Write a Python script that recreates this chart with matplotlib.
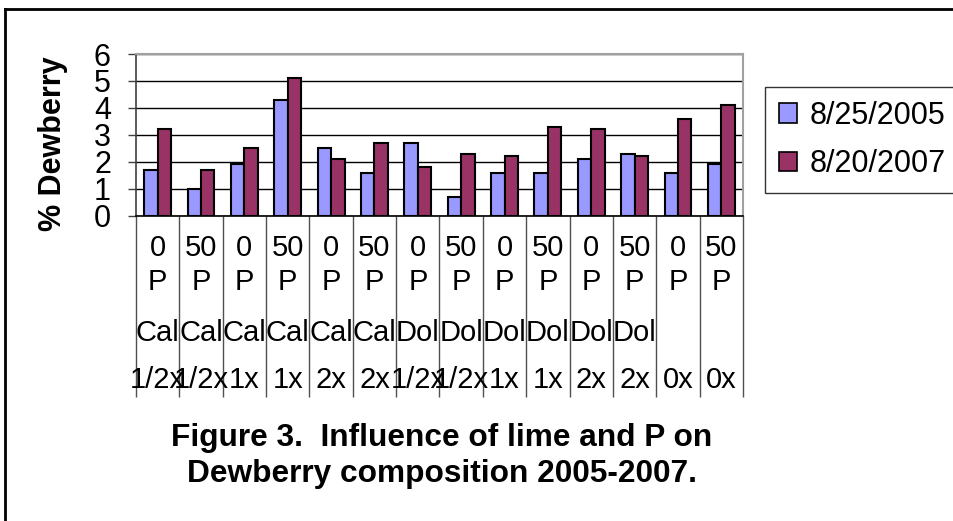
import matplotlib
matplotlib.use("Agg")
import matplotlib.pyplot as plt
import matplotlib.transforms as mtransforms
from matplotlib.patches import Patch
import numpy as np

plt.rcParams['font.family'] = ['Liberation Sans', 'DejaVu Sans']

p_rates = ["0", "50", "0", "50", "0", "50", "0", "50", "0", "50", "0", "50", "0", "50"]
p_unit = ["P"] * 14
lime_type = ["Cal", "Cal", "Cal", "Cal", "Cal", "Cal", "Dol", "Dol", "Dol", "Dol", "Dol", "Dol", "", ""]
lime_rate = ["1/2x", "1/2x", "1x", "1x", "2x", "2x", "1/2x", "1/2x", "1x", "1x", "2x", "2x", "0x", "0x"]
s2005 = [1.7, 1.0, 1.9, 4.3, 2.5, 1.6, 2.7, 0.7, 1.6, 1.6, 2.1, 2.3, 1.6, 1.9]
s2007 = [3.2, 1.7, 2.5, 5.1, 2.1, 2.7, 1.8, 2.3, 2.2, 3.3, 3.2, 2.2, 3.6, 4.1]
series_names = ["8/25/2005", "8/20/2007"]
colors = ["#9999FF", "#993366"]
yticks = [0, 1, 2, 3, 4, 5, 6]

W, H = 954, 521
fig = plt.figure(figsize=(W / 100, H / 100), dpi=100)
ax = fig.add_axes([136 / W, 1 - 215.7 / H, (743 - 136) / W, (215.7 - 54) / H])

x = np.arange(len(s2005))
bw = 0.31
ax.bar(x - bw / 2, s2005, bw, color=colors[0], edgecolor="black", linewidth=1.5, zorder=3)
ax.bar(x + bw / 2, s2007, bw, color=colors[1], edgecolor="black", linewidth=1.5, zorder=3)

ax.set_xlim(-0.5, len(x) - 0.5)
ax.set_ylim(0, 6)
ax.set_yticks(yticks)
ax.set_yticklabels([str(v) for v in yticks], fontsize=22)
ax.yaxis.grid(True, color="black", linewidth=1.0, zorder=0)
ax.set_axisbelow(True)
ax.tick_params(axis="y", direction="out", length=6, width=1, color="#404040", pad=12)

# category boundaries as long ticks
ax.set_xticks(np.arange(-0.5, len(x), 1.0))
ax.set_xticklabels([])
ax.tick_params(axis="x", direction="out", length=130, width=1, color="#505050")

for s in ["top", "right"]:
    ax.spines[s].set_color("#A0A0A0")
    ax.spines[s].set_linewidth(1.5)
ax.spines["left"].set_color("#404040")
ax.spines["left"].set_linewidth(1.2)
ax.spines["bottom"].set_color("black")
ax.spines["bottom"].set_linewidth(1.2)

trans = mtransforms.blended_transform_factory(ax.transData, ax.transAxes)
rows = [(p_rates, -0.20), (p_unit, -0.41), (lime_type, -0.725), (lime_rate, -1.015)]
for labels, yy in rows:
    for xi, lab in zip(x, labels):
        ax.text(xi, yy, lab, transform=trans, ha="center", va="center", fontsize=21)

fig.text(53 / W, 1 - 144 / H, "% Dewberry", rotation=90, ha="center", va="center",
         fontsize=22, fontweight="bold")

fig.text(442 / W, 1 - 438 / H, "Figure 3.  Influence of lime and P on", ha="center", va="center",
         fontsize=22.8, fontweight="bold")
fig.text(442 / W, 1 - 474 / H, "Dewberry composition 2005-2007.", ha="center", va="center",
         fontsize=22.8, fontweight="bold")

handles = [Patch(facecolor=c, edgecolor="black", linewidth=1.2) for c in colors]
leg = fig.legend(handles, series_names, loc="upper left", bbox_to_anchor=(765 / W, 1 - 87 / H),
                 fontsize=22, frameon=True, fancybox=False, handlelength=0.6, handleheight=0.6,
                 handletextpad=0.4, borderpad=0.45, labelspacing=0.6, borderaxespad=0)
leg.get_frame().set_edgecolor("black")
leg.get_frame().set_linewidth(1.0)

# outer chart border (top and left visible)
fig.add_artist(plt.Line2D([5.5 / W, 1], [1 - 8.5 / H, 1 - 8.5 / H], color="black", linewidth=2,
                          transform=fig.transFigure))
fig.add_artist(plt.Line2D([5.5 / W, 5.5 / W], [0, 1 - 8.5 / H], color="black", linewidth=2,
                          transform=fig.transFigure))

fig.savefig("out.png", dpi=100)
